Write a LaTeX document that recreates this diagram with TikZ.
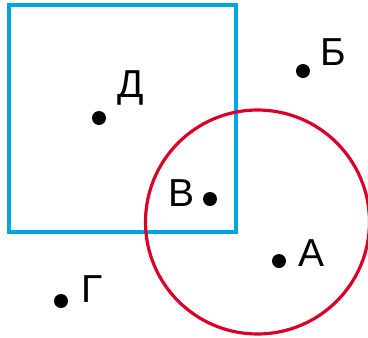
\documentclass[tikz,border=0pt]{standalone}
\usepackage{fontspec}
\setmainfont{Liberation Sans}
\usetikzlibrary{positioning}
\definecolor{sqblue}{RGB}{0,166,228}
\definecolor{circred}{RGB}{218,0,40}

\begin{document}
\begin{tikzpicture}[x=1pt, y=-1pt, pt/.style={circle, fill=black, inner sep=0pt, minimum size=14pt}, lbl/.style={inner sep=0pt, font=\fontsize{39}{45}\selectfont}]
\useasboundingbox (0,0) rectangle (368,338);
\draw[sqblue, line width=3.5pt] (9,5) rectangle (236,232);
\draw[circred, line width=3.2pt] (257.5,222) circle (112);
\node[pt] (D) at (99,118) {};
\node[pt] (B) at (303,71) {};
\node[pt] (V) at (210,199) {};
\node[pt] (A) at (279,261) {};
\node[pt] (G) at (61,301) {};
\node[lbl] (Dl) at (131,88) {Д};
\node[lbl] (Bl) at (333,52) {Б};
\node[lbl] (Vl) at (182,193) {В};
\node[lbl] (Al) at (312,253) {А};
\node[lbl] (Gl) at (92,289) {Г};
\end{tikzpicture}
\end{document}
